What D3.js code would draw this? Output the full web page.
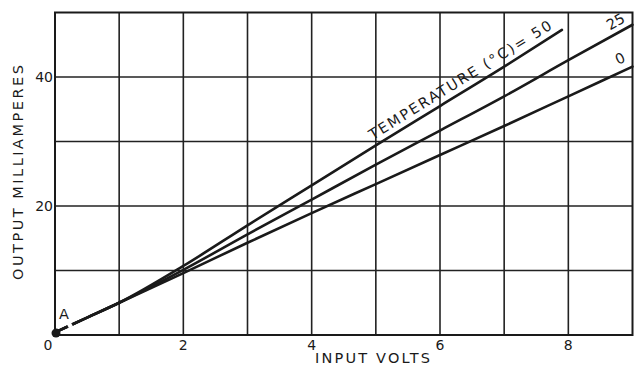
<!DOCTYPE html>
<html>
<head>
<meta charset="utf-8">
<script src="https://cdn.jsdelivr.net/npm/d3@7"></script>
<style>
body{margin:0;background:#fff;}
text{font-family:"DejaVu Sans",Verdana,sans-serif;fill:#1a1a1a;}
</style>
</head>
<body>
<div id="chart"></div>
<script>
// input volts vs output milliamperes for three temperatures
var volts=[0,0.5,1,2,3,4,5,6,7,8,9];
var volts50=[0,0.5,1,2,3,4,5,6,7,7.9];
var temp50=[0.4,2.7,5.0,10.7,17.0,23.2,29.4,35.5,41.6,47.3];
var temp25=[0.4,2.7,5.0,10.1,15.6,21.0,26.4,31.7,37.0,42.6,48.1];
var temp0=[0.4,2.7,5.0,9.6,14.3,18.9,23.4,27.9,32.4,37.0,41.6];
var xTicks=[0,2,4,6,8];
var yTicks=[20,40];

var width=640,height=373,
	margin={top:12.5,right:7.5,bottom:38,left:55};

var x=d3.scaleLinear().domain([0,9]).range([margin.left,width-margin.right]);
var y=d3.scaleLinear().domain([0,50]).range([height-margin.bottom,margin.top]);

var svg=d3.select("#chart").append("svg")
	.attr("width",width)
	.attr("height",height);

//grid
svg.append("g").selectAll("line")
	.data(d3.range(1,9))
	.enter().append("line")
	.attr("x1",function(d){return x(d);}).attr("x2",function(d){return x(d);})
	.attr("y1",y(0)).attr("y2",y(50))
	.style("stroke","#222").style("stroke-width",1.6);
svg.append("g").selectAll("line")
	.data(d3.range(10,50,10))
	.enter().append("line")
	.attr("x1",x(0)).attr("x2",x(9))
	.attr("y1",function(d){return y(d);}).attr("y2",function(d){return y(d);})
	.style("stroke","#222").style("stroke-width",1.6);

svg.append("rect")
	.attr("x",x(0)).attr("y",y(50))
	.attr("width",x(9)-x(0)).attr("height",y(0)-y(50))
	.style("fill","none").style("stroke","#1a1a1a").style("stroke-width",2);

//tick labels
svg.append("g").selectAll("text")
	.data(xTicks)
	.enter().append("text")
	.attr("x",function(d){return d==0?x(d)-7:x(d);})
	.attr("y",y(0)+15)
	.attr("text-anchor","middle")
	.style("font-size","14px")
	.text(function(d){return d;});
svg.append("g").selectAll("text")
	.data(yTicks)
	.enter().append("text")
	.attr("x",x(0)-2)
	.attr("y",function(d){return y(d)+5;})
	.attr("text-anchor","end")
	.style("font-size","14px")
	.text(function(d){return d;});

//axis titles
svg.append("text")
	.attr("x",315).attr("y",363)
	.attr("textLength",115).attr("lengthAdjust","spacing")
	.style("font-size","14.5px")
	.text("INPUT  VOLTS");
svg.append("text")
	.attr("transform","translate(23,280) rotate(-90)")
	.attr("textLength",215).attr("lengthAdjust","spacing")
	.style("font-size","14.5px")
	.text("OUTPUT  MILLIAMPERES");

//lines
var line=d3.line()
	.x(function(d){return x(d[0]);})
	.y(function(d){return y(d[1]);})
	.curve(d3.curveMonotoneX);

var series=[
	{name:"50",pts:d3.zip(volts50,temp50)},
	{name:"25",pts:d3.zip(volts,temp25)},
	{name:"0",pts:d3.zip(volts,temp0)}
];

svg.append("g").selectAll("path")
	.data(series)
	.enter().append("path")
	.attr("d",function(d){return line(d.pts);})
	.style("fill","none")
	.style("stroke","#1a1a1a")
	.style("stroke-width",2.6)
	.style("stroke-linecap","round");

//small break in the line next to A
svg.append("line")
	.attr("x1",x(0.2)).attr("x2",x(0.26))
	.attr("y1",y(1.4)).attr("y2",y(1.7))
	.style("stroke","#fff").style("stroke-width",5);

//point A
svg.append("circle")
	.attr("cx",x(0)+1).attr("cy",y(0.3))
	.attr("r",4.5).style("fill","#1a1a1a");
svg.append("text")
	.attr("x",x(0)+4).attr("y",y(0)-16)
	.style("font-size","14.5px")
	.text("A");

//curve labels
function angle(pts,i,j){
	return Math.atan2(y(pts[j][1])-y(pts[i][1]),x(pts[j][0])-x(pts[i][0]))*180/Math.PI;
}
var p50=series[0].pts, p25=series[1].pts, p0=series[2].pts;
svg.append("text")
	.attr("transform","translate("+x(p50[6][0])+","+y(p50[6][1])+") rotate("+angle(p50,5,9)+")")
	.attr("dy","-6")
	.attr("textLength",212).attr("lengthAdjust","spacing")
	.style("font-size","14.5px")
	.text("TEMPERATURE (\u00B0C)= 50");
var end25=p25[p25.length-1];
svg.append("text")
	.attr("transform","translate("+(x(end25[0])-4)+","+(y(end25[1])+1)+") rotate("+angle(p25,8,10)+")")
	.attr("text-anchor","end")
	.attr("dy","-5")
	.style("font-size","14.5px")
	.text("25");
var end0=p0[p0.length-1];
svg.append("text")
	.attr("transform","translate("+(x(end0[0])-4)+","+(y(end0[1])-1)+") rotate("+angle(p0,8,10)+")")
	.attr("text-anchor","end")
	.attr("dy","-5")
	.style("font-size","14.5px")
	.text("0");
</script>
</body>
</html>
